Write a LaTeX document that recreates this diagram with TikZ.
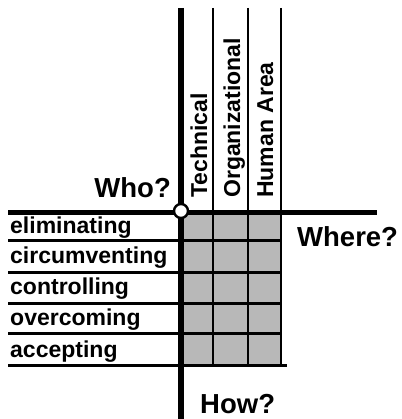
\documentclass[tikz,border=0pt]{standalone}
\usepackage{fontspec}
\setmainfont{Liberation Sans}
\begin{document}
\begin{tikzpicture}[x=1pt,y=-1pt,
  thickline/.style={line width=6pt},
  axisline/.style={line width=5pt},
  rowline/.style={line width=3pt},
  colline/.style={line width=2.6pt},
  question/.style={font=\fontsize{27.5}{30}\selectfont\bfseries, inner sep=0pt},
  rowlabel/.style={font=\fontsize{23}{26}\selectfont\bfseries, inner sep=0pt, anchor=base west},
  collabel/.style={font=\fontsize{23}{26}\selectfont\bfseries, inner sep=0pt, anchor=base west, rotate=90},
  cellfill/.style={fill=black!28}
]
\useasboundingbox (0,0) rectangle (401,419);
% shaded grid
\fill[cellfill] (181,212) rectangle (281,365);
% row lines
\foreach \yy in {240,272,303,333} {\draw[rowline] (8,\yy) -- (281,\yy);}
\draw[rowline] (8,365) -- (287,365);
% column lines
\foreach \xx in {213,248,281} {\draw[colline] (\xx,8) -- (\xx,365);}
% main axes
\draw[axisline] (8,212) -- (377,212);
\draw[thickline] (181,8) -- (181,419);
\node[circle, draw, line width=2.4pt, fill=white, minimum size=14pt, inner sep=0pt] (origin) at (181,211) {};
% labels
\node[question, anchor=base east] (who) at (171,197) {Who?};
\node[question, anchor=base west] (where) at (297,246) {Where?};
\node[question, anchor=base west] (how) at (200,413) {How?};
\node[rowlabel] (r1) at (10,233) {eliminating};
\node[rowlabel] (r2) at (10,263) {circumventing};
\node[rowlabel] (r3) at (10,294) {controlling};
\node[rowlabel] (r4) at (10,325) {overcoming};
\node[rowlabel] (r5) at (10,357) {accepting};
\node[collabel] (c1) at (207,198) {Technical};
\node[collabel] (c2) at (240,198) {Organizational};
\node[collabel] (c3) at (273,198) {Human Area};
\end{tikzpicture}
\end{document}
